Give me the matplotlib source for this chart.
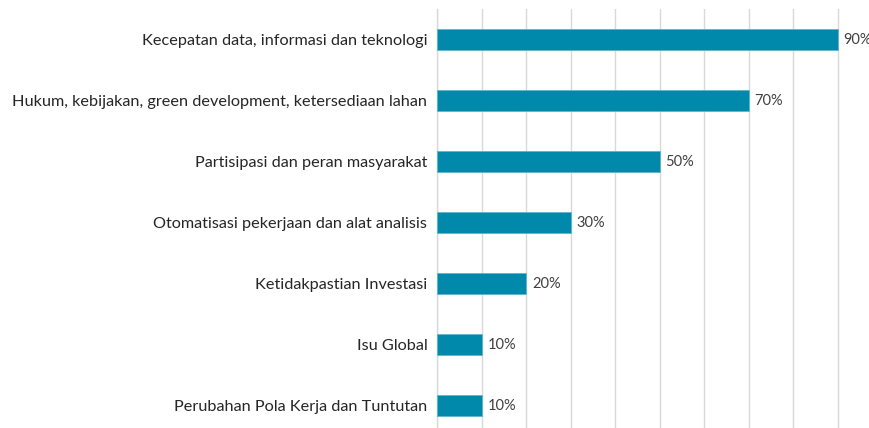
import matplotlib
matplotlib.use("Agg")
import matplotlib.pyplot as plt
from matplotlib.ticker import MultipleLocator

categories = [
    "Kecepatan data, informasi dan teknologi",
    "Hukum, kebijakan, green development, ketersediaan lahan",
    "Partisipasi dan peran masyarakat",
    "Otomatisasi pekerjaan dan alat analisis",
    "Ketidakpastian Investasi",
    "Isu Global",
    "Perubahan Pola Kerja dan Tuntutan",
]
values = [90, 70, 50, 30, 20, 10, 10]
value_labels = ["90%", "70%", "50%", "30%", "20%", "10%", "10%"]

plt.rcParams['font.family'] = ['Lato', 'DejaVu Sans']

fig = plt.figure(figsize=(8.7, 4.28), dpi=100)
ax = fig.add_axes([437/870, -8/428, 445/870, 427/428])

y = list(range(len(categories)))
ax.barh(y, values, height=0.36, color="#0189ab", edgecolor="#5fb4cc", linewidth=0.6, zorder=3)
ax.set_ylim(len(categories) - 0.5, -0.5)
ax.set_xlim(0, 100)
ax.xaxis.set_major_locator(MultipleLocator(10))
ax.grid(axis="x", color="#d9d9d9", linewidth=1, zorder=0)
ax.set_xticklabels([])
ax.tick_params(axis="x", length=0)
ax.tick_params(axis="y", length=0, pad=7)
ax.set_yticks(y)
ax.set_yticklabels(categories, fontsize=11.7, color="#262626")
for s in ["top", "right", "bottom"]:
    ax.spines[s].set_visible(False)
ax.spines["left"].set_color("#d9d9d9")
ax.spines["left"].set_linewidth(1)

for yi, v, lab in zip(y, values, value_labels):
    ax.annotate(lab, (v, yi), xytext=(4.3, 0), textcoords="offset points",
                va="center", ha="left", fontsize=10.5, color="#404040", annotation_clip=False)

fig.savefig("out.png", dpi=100)
